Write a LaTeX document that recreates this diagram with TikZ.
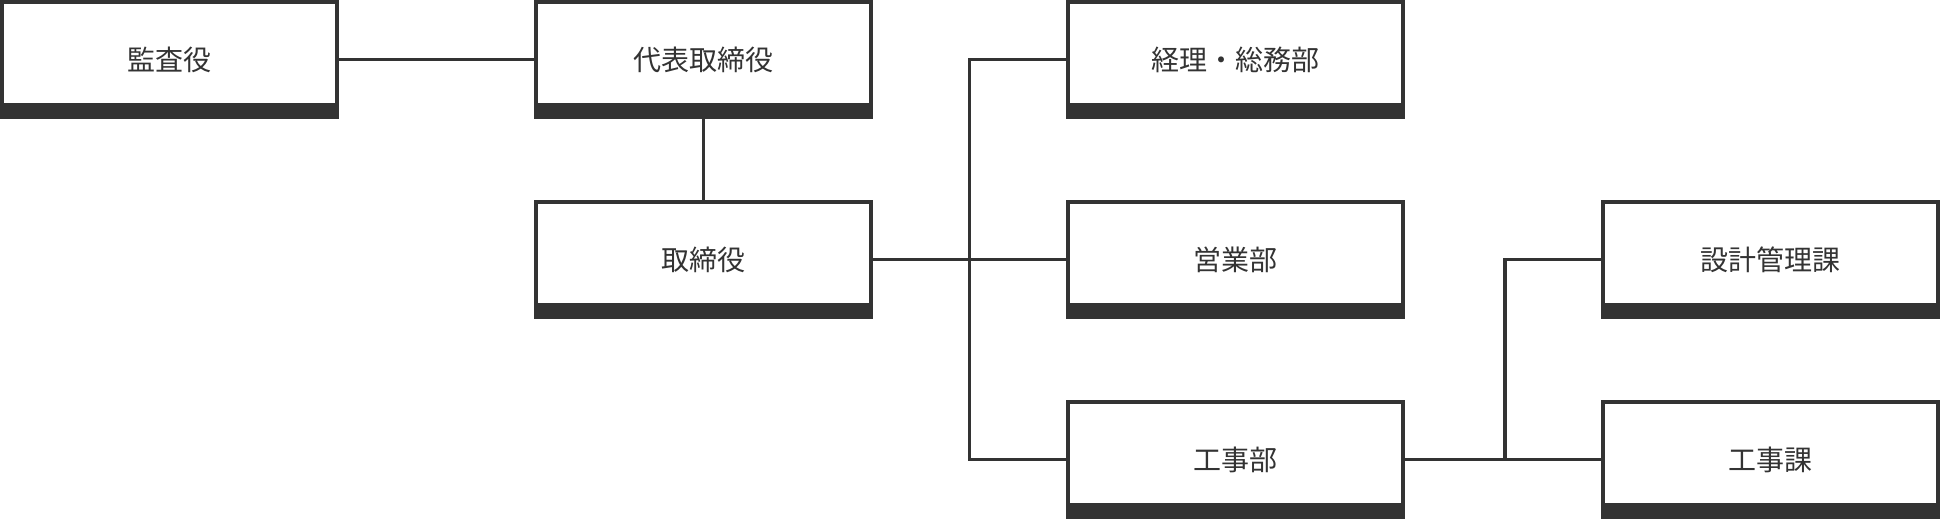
\documentclass[tikz,border=0pt]{standalone}
\usepackage{fontspec}
\setmainfont{Noto Sans CJK JP}
\usetikzlibrary{positioning,calc}
\definecolor{ink}{HTML}{333333}
\begin{document}
\begin{tikzpicture}[
            box/.style={rectangle, draw=ink, line width=4pt, fill=white,
                minimum width=335pt, minimum height=115pt, inner sep=0pt,
                text=ink, font=\fontsize{28}{32}\selectfont,
                path picture={\fill[ink] (path picture bounding box.south west)
                    rectangle ([yshift=14pt]path picture bounding box.south east);}},
            link/.style={draw=ink, line width=3.5pt},
        ]
        \useasboundingbox (0,0) rectangle (1940pt,-520pt);
        \node[box, anchor=north west] (kansa) at (0,0) {監査役};
        \node[box, right=195pt of kansa] (daihyo) {代表取締役};
        \node[box, below=81pt of daihyo] (torishimari) {取締役};
        \node[box, right=193pt of daihyo] (keiri) {経理・総務部};
        \node[box, below=81pt of keiri] (eigyo) {営業部};
        \node[box, below=81pt of eigyo] (koujibu) {工事部};
        \node[box, right=196pt of eigyo] (sekkei) {設計管理課};
        \node[box, below=81pt of sekkei] (koujika) {工事課};
        \coordinate (j1) at ($(torishimari.east)!0.5!(eigyo.west)$);
        \coordinate (j2) at ($(koujibu.east)!0.51!(koujika.west)$);
        \path[link] (kansa.east) -- (daihyo.west);
        \path[link] (daihyo.south) -- (torishimari.north);
        \path[link] (torishimari.east) -- (eigyo.west);
        \path[link] (keiri.west) -| (j1) |- (koujibu.west);
        \path[link] (koujibu.east) -- (koujika.west);
        \path[link] (sekkei.west) -| (j2);
\end{tikzpicture}
\end{document}
